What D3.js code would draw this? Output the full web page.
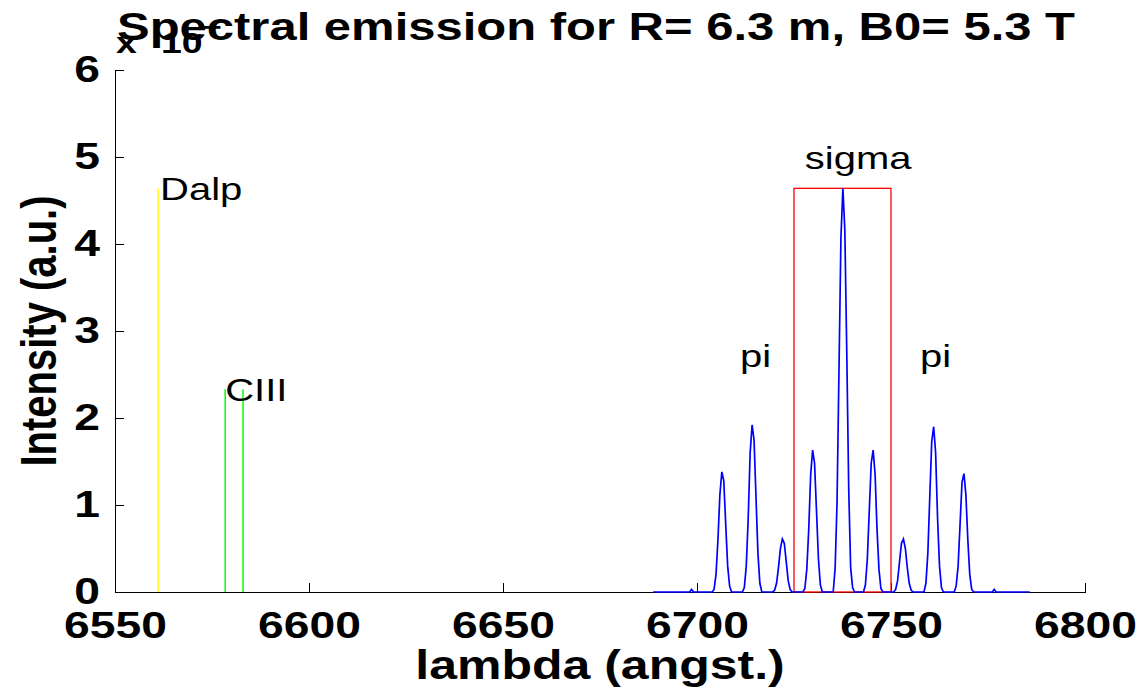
<!DOCTYPE html>
<html lang="en">
<head>
    <meta charset="UTF-8">
    <title>Spectral emission</title>
    <style>
        body {
            margin: 0;
            padding: 0;
            background: #fff;
        }

        svg {
            display: block;
            background: #fff;
            font-family: "Liberation Sans", Arial, sans-serif;
        }
    </style>
</head>
<body>
    <script src="https://d3js.org/d3.v7.min.js"></script>
    <script>
        const width = 1140
        const height = 692
        const margin = { top: 70, right: 55, bottom: 100, left: 115 }
        // the picture is stretched sideways, so is the text
        const stretch = 1.25

        const xTicks = [6550, 6600, 6650, 6700, 6750, 6800]
        const yTicks = [0, 1, 2, 3, 4, 5, 6]

        // D-alpha line (yellow) and CIII lines (green)
        const dalpLambda = [6561.1]
        const dalpTop = [4.64]
        const ciiiLambda = [6578.4, 6583.0]
        const ciiiTop = [2.33, 2.33]

        // sigma box
        const sigmaBox = [6725, 6750]
        const sigmaTop = 4.64

        // Zeeman pattern (blue trace)
        const specLambda = [
            6688.7, 6698.1, 6698.6, 6699.1,
            6703.9, 6704.4, 6704.9, 6705.4, 6705.9, 6706.4, 6706.9, 6707.4, 6707.9, 6708.4, 6708.9,
            6711.7, 6712.2, 6712.7, 6713.2, 6713.7, 6714.2, 6714.7, 6715.2, 6715.7, 6716.2, 6716.7,
            6719.5, 6720.0, 6720.5, 6721.0, 6721.5, 6722.0, 6722.5, 6723.0, 6723.5, 6724.0, 6724.5,
            6727.3, 6727.8, 6728.3, 6728.8, 6729.3, 6729.8, 6730.3, 6730.8, 6731.3, 6731.8, 6732.3,
            6735.1, 6735.6, 6736.1, 6736.6, 6737.1, 6737.6, 6738.1, 6738.6, 6739.1, 6739.6, 6740.1, 6740.6,
            6742.9, 6743.4, 6743.9, 6744.4, 6744.9, 6745.4, 6745.9, 6746.4, 6746.9, 6747.4, 6747.9,
            6750.7, 6751.2, 6751.7, 6752.2, 6752.7, 6753.2, 6753.7, 6754.2, 6754.7, 6755.2, 6755.7,
            6758.5, 6759.0, 6759.5, 6760.0, 6760.5, 6761.0, 6761.5, 6762.0, 6762.5, 6763.0, 6763.5,
            6766.3, 6766.8, 6767.3, 6767.8, 6768.3, 6768.8, 6769.3, 6769.8, 6770.3, 6770.8, 6771.3,
            6776.1, 6776.6, 6777.1, 6785.8
        ]
        const specIntensity = [
            0, 0, 0.03, 0,
            0, 0.03, 0.2, 0.6, 1.12, 1.38, 1.28, 0.78, 0.3, 0.07, 0,
            0, 0.05, 0.3, 0.85, 1.6, 1.92, 1.75, 1.1, 0.45, 0.1, 0,
            0, 0.02, 0.1, 0.28, 0.5, 0.61, 0.56, 0.35, 0.13, 0.03, 0,
            0, 0.04, 0.26, 0.72, 1.35, 1.63, 1.48, 0.93, 0.38, 0.08, 0,
            0, 0.27, 1.04, 2.57, 4.08, 4.64, 4.16, 2.76, 1.19, 0.28, 0.05, 0,
            0, 0.08, 0.38, 0.93, 1.48, 1.63, 1.35, 0.72, 0.26, 0.04, 0,
            0, 0.03, 0.13, 0.35, 0.56, 0.61, 0.5, 0.28, 0.1, 0.02, 0,
            0, 0.1, 0.45, 1.1, 1.73, 1.9, 1.6, 0.85, 0.3, 0.05, 0,
            0, 0.07, 0.3, 0.78, 1.26, 1.36, 1.12, 0.6, 0.2, 0.03, 0,
            0, 0.03, 0, 0
        ]

        const labelText = ['Dalp', 'CIII', 'pi', 'sigma', 'pi']
        const labelLambda = [6561.6, 6578.4, 6711.1, 6727.8, 6757.5]
        const labelValue = [4.64, 2.33, 2.72, 5.0, 2.72]

        const svg = d3.select('body')
            .append('svg')
            .attr('width', width)
            .attr('height', height)

        const x = d3.scaleLinear()
            .domain([6550, 6800])
            .range([margin.left, width - margin.right])

        const y = d3.scaleLinear()
            .domain([0, 6])
            .range([height - margin.bottom, margin.top])

        // axes, ticks pointing inwards
        const xAxis = svg.append('g')
            .attr('transform', `translate(0,${y(0)})`)
            .call(d3.axisBottom(x).tickValues(xTicks).tickFormat(d3.format('d'))
                .tickSizeInner(-9).tickSizeOuter(0).tickPadding(20))
        xAxis.selectAll('text')
            .attr('transform', `scale(${stretch},1)`)

        const yAxis = svg.append('g')
            .attr('transform', `translate(${x(6550)},0)`)
            .call(d3.axisLeft(y).tickValues(yTicks).tickFormat(d3.format('d'))
                .tickSizeInner(-9).tickSizeOuter(0).tickPadding(12))
        yAxis.selectAll('text')
            .attr('transform', `scale(${stretch},1)`)

        svg.selectAll('.tick text, g')
            .attr('font-family', null)
        xAxis.attr('font-size', 37).attr('font-weight', 'bold')
        yAxis.attr('font-size', 37).attr('font-weight', 'bold')
        svg.selectAll('.domain, .tick line')
            .attr('stroke', '#000')
            .attr('shape-rendering', 'crispEdges')

        // single lines
        svg.selectAll('.dalp')
            .data(dalpLambda)
            .join('line')
            .attr('x1', d => x(d)).attr('x2', d => x(d))
            .attr('y1', y(0)).attr('y2', (d, i) => y(dalpTop[i]))
            .attr('stroke', '#ffff00')
            .attr('stroke-width', 1.5)

        svg.selectAll('.ciii')
            .data(ciiiLambda)
            .join('line')
            .attr('x1', d => x(d)).attr('x2', d => x(d))
            .attr('y1', y(0)).attr('y2', (d, i) => y(ciiiTop[i]))
            .attr('stroke', '#00ff00')
            .attr('stroke-width', 1.5)

        // sigma box
        svg.append('rect')
            .attr('x', x(sigmaBox[0]))
            .attr('y', y(sigmaTop))
            .attr('width', x(sigmaBox[1]) - x(sigmaBox[0]))
            .attr('height', y(0) - y(sigmaTop))
            .attr('fill', 'none')
            .attr('stroke', '#ff0000')
            .attr('stroke-width', 1.3)

        // spectrum
        const line = d3.line()
            .x(d => x(d[0]))
            .y(d => y(d[1]))

        svg.append('path')
            .datum(d3.zip(specLambda, specIntensity))
            .attr('d', line)
            .attr('fill', 'none')
            .attr('stroke', '#0000ff')
            .attr('stroke-width', 1.7)
            .attr('stroke-linejoin', 'miter')

        // text labels in the plot
        svg.selectAll('.lbl')
            .data(labelText)
            .join('text')
            .attr('transform', (d, i) => `translate(${x(labelLambda[i])},${y(labelValue[i])}) scale(${stretch},1)`)
            .attr('dy', '0.36em')
            .attr('font-size', 32)
            .text(d => d)

        // exponent, partly under the title
        const expo = svg.append('g')
            .attr('font-size', 30)
            .attr('font-weight', 'bold')
        expo.append('text')
            .attr('transform', `translate(116,53) scale(${stretch},1)`)
            .text('x')
        expo.append('text')
            .attr('transform', `translate(161,53) scale(${stretch},1)`)
            .text('10')
            .append('tspan')
            .attr('dy', -17)
            .attr('font-size', 26)
            .text('\u2212')

        svg.append('text')
            .attr('transform', `translate(596,40) scale(${stretch},1)`)
            .attr('text-anchor', 'middle')
            .attr('font-size', 38)
            .attr('font-weight', 'bold')
            .attr('textLength', 958 / stretch)
            .attr('lengthAdjust', 'spacingAndGlyphs')
            .text('Spectral emission for R= 6.3 m, B0= 5.3 T')

        svg.append('text')
            .attr('transform', `translate(600,679) scale(${stretch},1)`)
            .attr('text-anchor', 'middle')
            .attr('font-size', 40)
            .attr('font-weight', 'bold')
            .text('lambda (angst.)')

        svg.append('text')
            .attr('transform', `translate(56,${(y(0) + y(6)) / 2}) scale(${stretch},1) rotate(-90)`)
            .attr('text-anchor', 'middle')
            .attr('font-size', 40)
            .attr('font-weight', 'bold')
            .text('Intensity (a.u.)')
    </script>
</body>
</html>
